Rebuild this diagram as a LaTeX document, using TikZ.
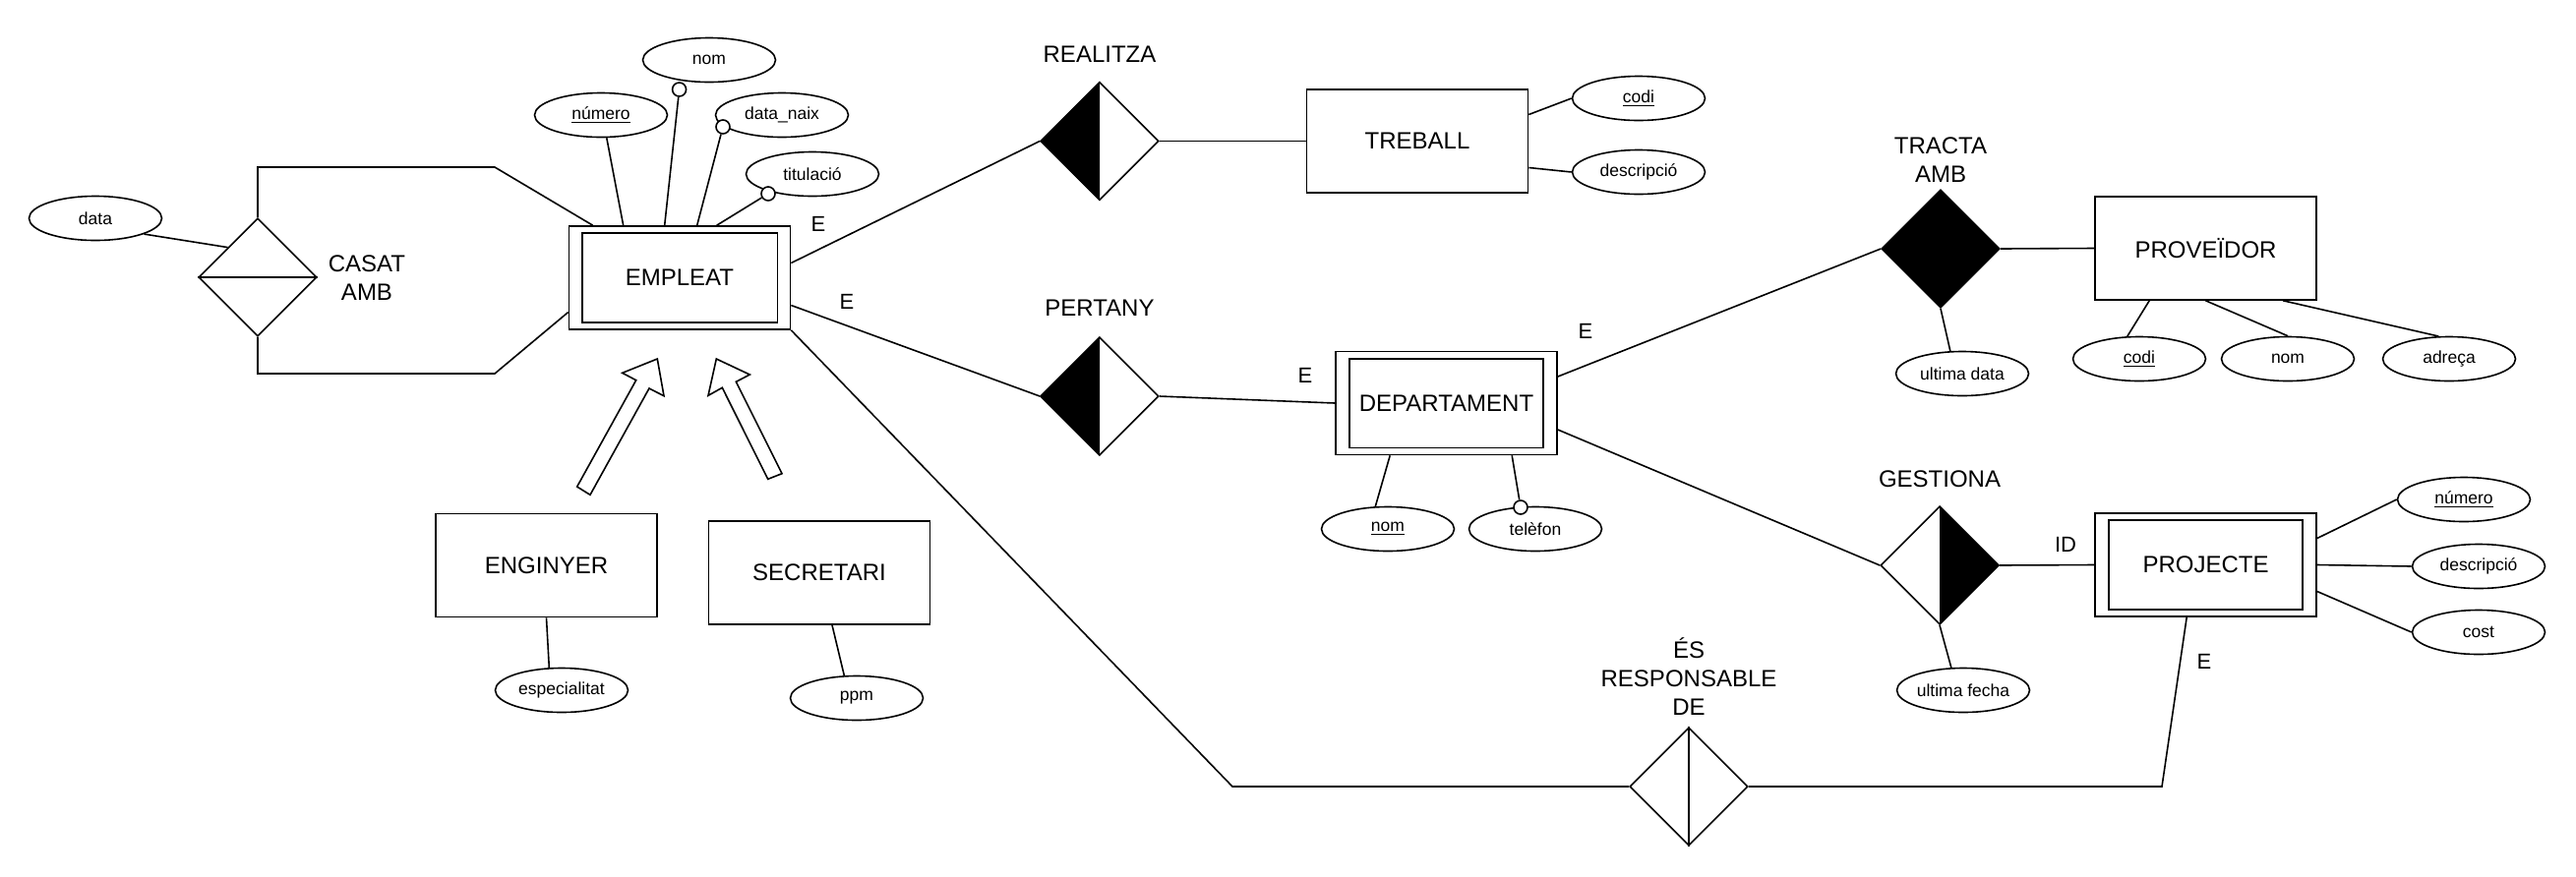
\documentclass[tikz,border=0pt]{standalone}
\usepackage{fontspec}
\setmainfont{Liberation Sans}
\usetikzlibrary{shapes.geometric,calc}
\newcommand\erbig{\fontsize{12}{14.5}\selectfont}
\newcommand\ersmall{\fontsize{8.75}{10.5}\selectfont}
\newcommand\erlab{\fontsize{11}{13}\selectfont}
\begin{document}
\begin{tikzpicture}[x=0.5pt,y=-0.5pt, line width=0.8pt,
  ent/.style={draw, rectangle, minimum width=112.5pt, minimum height=52.5pt, inner sep=0pt, font=\erbig},
  rel/.style={draw, diamond, minimum width=60pt, minimum height=60pt, inner sep=0pt},
  attr/.style={draw, ellipse, minimum width=67.5pt, minimum height=22.5pt, inner sep=0pt, font=\ersmall},
  opt/.style={draw, circle, fill=white, minimum size=7pt, inner sep=0pt},
  rlab/.style={font=\erbig, align=center, inner sep=0pt},
  card/.style={font=\erlab, inner sep=0pt},
  isa/.style={draw, fill=white, line join=miter}]
\useasboundingbox (0,0) rectangle (2619,891);

% entities
\node[ent] (E) at (691,282.5) {EMPLEAT};
\draw ($(E.north west)+(14,8)$) rectangle ($(E.south east)+(-14,-8)$);
\node[ent] (T) at (1441,143.5) {TREBALL};
\node[ent] (D) at (1470.5,410) {DEPARTAMENT};
\draw ($(D.north west)+(15,8)$) rectangle ($(D.south east)+(-15,-8)$);
\node[ent] (V) at (2242.5,252.5) {PROVEÏDOR};
\node[ent] (P) at (2242.5,574.5) {PROJECTE};
\draw ($(P.north west)+(15,8)$) rectangle ($(P.south east)+(-15,-8)$);
\node[ent] (G) at (555.5,575) {ENGINYER};
\node[ent] (S) at (833,582.5) {SECRETARI};

% relationships
\node[rel] (dC) at (262,282) {};
\node[rel] (dR) at (1118,143.5) {};
\node[rel] (dP) at (1118,403) {};
\node[rel, fill=black] (dT) at (1973,253) {};
\node[rel] (dG) at (1972,575) {};
\node[rel] (dS) at (1717,800) {};
\fill (dR.north) -- (dR.west) -- (dR.south) -- cycle;
\fill (dP.north) -- (dP.west) -- (dP.south) -- cycle;
\fill (dG.north) -- (dG.east) -- (dG.south) -- cycle;
\draw (dS.north) -- (dS.south);
\draw (dC.west) -- (dC.east);

% relationship labels
\node[rlab] (lR) at (1118,55) {REALITZA};
\node[rlab] (lP) at (1118,313) {PERTANY};
\node[rlab] (lT) at (1973,163) {TRACTA\\AMB};
\node[rlab] (lG) at (1972,487) {GESTIONA};
\node[rlab] (lS) at (1717,688) {ÉS\\RESPONSABLE\\DE};
\node[rlab] (lC) at (373,283) {CASAT\\AMB};

% cardinalities
\node[card] (k1) at (832,228) {E};
\node[card] (k2) at (861,307) {E};
\node[card] (k3) at (1327,382) {E};
\node[card] (k4) at (1612,337) {E};
\node[card] (k5) at (2241,673) {E};
\node[card] (k6) at (2100,554) {ID};

% attributes
\node[attr] (aData) at (97,222) {data};
\node[attr] (aNum) at (611,117) {\underline{número}};
\node[attr] (aNom) at (721,61) {nom};
\node[attr] (aDn) at (795,117) {data\_naix};
\node[attr] (aTit) at (826,177) {titulació};
\node[attr] (aCodi) at (1666,100) {\underline{codi}};
\node[attr] (aDesc) at (1666,175) {descripció};
\node[attr] (aDnom) at (1411,538) {\underline{nom}};
\node[attr] (aTel) at (1561,538) {telèfon};
\node[attr] (aUd) at (1995,380) {ultima data};
\node[attr] (aVcodi) at (2175,365) {\underline{codi}};
\node[attr] (aVnom) at (2326,365) {nom};
\node[attr] (aVadr) at (2490,365) {adreça};
\node[attr] (aUf) at (1996,702) {ultima fecha};
\node[attr] (aPnum) at (2505,508) {\underline{número}};
\node[attr] (aPdesc) at (2520,576) {descripció};
\node[attr] (aPcost) at (2520,643) {cost};
\node[attr] (aEsp) at (571,702) {especialitat};
\node[attr] (aPpm) at (871,710) {ppm};

% optional markers
\node[opt] (o1) at (690.6,91) {};
\node[opt] (o2) at (735,129) {};
\node[opt] (o3) at (781,197) {};
\node[opt] (o4) at (1546,516) {};

% connectors
\draw (aData.-18) -- ($(dC.west)!0.5!(dC.north)$);
\draw (dC.north) |- (503,170) -- ($(E.north west)+(25,0)$);
\draw (dC.south) |- (503,380) -- ($(E.west)+(0,35)$);
\draw (aNum.-76) -- ($(E.north west)+(56,0)$);
\draw (o1) -- ($(E.north west)+(98,0)$);
\draw (o2) -- ($(E.north west)+(131,0)$);
\draw (o3) -- ($(E.north west)+(151,0)$);
\draw ($(E.east)+(0,-15)$) -- (dR.west);
\draw ($(E.east)+(0,28)$) -- (dP.west);
\draw (E.south east) -- (1253,800) -- (dS.west);
\draw (dS.east) -- (2198,800) -- ($(P.south west)+(94,0)$);
\draw (dR.east) -- (T.west);
\draw ($(T.east)+(0,-27)$) -- (aCodi.west);
\draw ($(T.east)+(0,27)$) -- (aDesc.west);
\draw (dP.east) -- (D.west);
\draw ($(D.east)+(0,-27)$) -- (dT.west);
\draw ($(D.east)+(0,27)$) -- (dG.west);
\draw ($(D.south west)+(56,0)$) -- (aDnom.119);
\draw ($(D.south west)+(180,0)$) -- (o4);
\draw (dT.east) -- (V.west);
\draw (dT.south) -- (aUd.118);
\draw ($(V.south west)+(56,0)$) -- (aVcodi.118);
\draw (V.south) -- (aVnom.north);
\draw ($(V.south west)+(192,0)$) -- (aVadr.115);
\draw (dG.east) -- (P.west);
\draw (dG.south) -- (aUf.118);
\draw ($(P.east)+(0,-27)$) -- (aPnum.west);
\draw (P.east) -- (aPdesc.west);
\draw ($(P.east)+(0,27)$) -- (aPcost.west);
\draw (G.south) -- (aEsp.119);
\draw ($(S.south)+(13,0)$) -- (aPpm.119);

% ISA arrows
\draw[isa] (586.7,495) -- (646.7,386.7) -- (632.7,379.3) -- (668.3,365) -- (675,402.7) -- (660,395) -- (600,503.3) -- cycle;
\draw[isa] (795,481.7) -- (748.3,388.3) -- (762.3,381) -- (728.3,365) -- (720,402.3) -- (734.3,394.3) -- (780.7,487.3) -- cycle;
\end{tikzpicture}
\end{document}
